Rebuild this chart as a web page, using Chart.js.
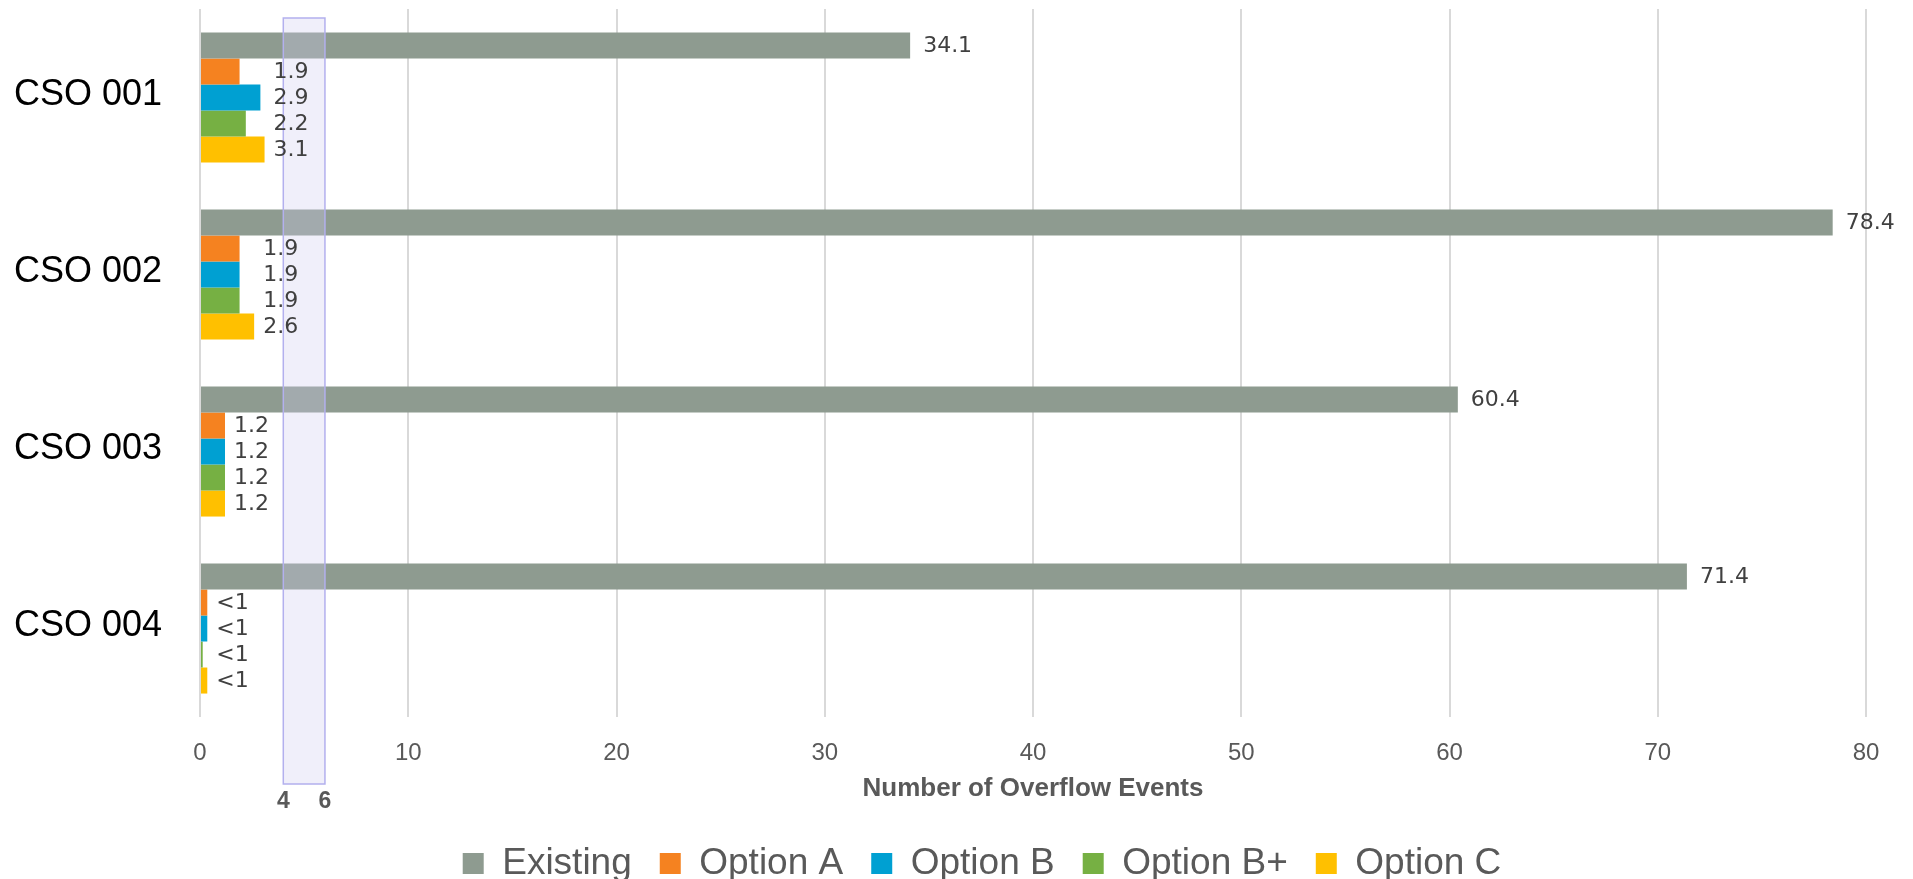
<!DOCTYPE html>
<html>
<head>
<meta charset="utf-8">
<script src="https://cdn.jsdelivr.net/npm/chart.js@4"></script>
<style>
  html, body { margin: 0; padding: 0; background: #fff; }
</style>
</head>
<body>
<canvas id="myChart" width="1913" height="879"></canvas>
<script>
var sites = ["CSO 001", "CSO 002", "CSO 003", "CSO 004"];
var series_names = ["Existing", "Option A", "Option B", "Option B+", "Option C"];

// overflow events per site, one array per scenario
var existing = [34.1, 78.4, 60.4, 71.4];
var option_a = [1.9, 1.9, 1.2, 0.35];
var option_b = [2.9, 1.9, 1.2, 0.35];
var option_bplus = [2.2, 1.9, 1.2, 0.13];
var option_c = [3.1, 2.6, 1.2, 0.35];

var x_min = 0, x_max = 80, x_step = 10;
// target range shaded across the chart
var band = [4, 6];

var colors = ["#8E9B90", "#F58220", "#00A0D2", "#76B043", "#FFC000"];
var series_values = [existing, option_a, option_b, option_bplus, option_c];

function label_text(v){
  if(v < 1) return "<1";
  return v.toFixed(1);
}

var band_plugin = {
  id: "band",
  afterDatasetsDraw: function(chart){
    var ctx = chart.ctx;
    var x = chart.scales.x;
    var area = chart.chartArea;
    var x0 = x.getPixelForValue(band[0]);
    var x1 = x.getPixelForValue(band[1]);
    var top = area.top + 9;
    var bottom = area.bottom + 67;
    ctx.save();
    ctx.fillStyle = "rgba(207,204,239,0.31)";
    ctx.fillRect(x0, top, x1 - x0, bottom - top);
    ctx.strokeStyle = "#B3B0EE";
    ctx.lineWidth = 1.5;
    ctx.strokeRect(x0, top, x1 - x0, bottom - top);
    // range end labels under the box
    ctx.fillStyle = "#595959";
    ctx.font = "bold 23px 'Liberation Sans'";
    ctx.textAlign = "center";
    ctx.textBaseline = "middle";
    ctx.fillText(String(band[0]), x0, bottom + 18);
    ctx.fillText(String(band[1]), x1, bottom + 18);
    ctx.restore();
  }
};

var value_labels = {
  id: "value_labels",
  afterDatasetsDraw: function(chart){
    var ctx = chart.ctx;
    ctx.save();
    ctx.font = "22px 'DejaVu Sans'";
    ctx.fillStyle = "#404040";
    ctx.textAlign = "left";
    ctx.textBaseline = "middle";
    var n = chart.data.datasets.length;
    for(var i = 0; i < sites.length; i++){
      // option labels line up just past the longest option bar
      var opt_end = 0;
      for(var d = 1; d < n; d++){
        opt_end = Math.max(opt_end, chart.getDatasetMeta(d).data[i].x);
      }
      for(var d = 0; d < n; d++){
        var bar = chart.getDatasetMeta(d).data[i];
        var lx = d === 0 ? bar.x + 13 : opt_end + 9;
        ctx.fillText(label_text(chart.data.datasets[d].data[i]), lx, bar.y + 1);
      }
    }
    ctx.restore();
  }
};

// legend row sits a little right of the canvas centre
var legend_nudge = {
  id: "legend_nudge",
  afterLayout: function(chart){
    chart.legend.left += 42;
    chart.legend.right += 42;
  }
};

var datasets = series_names.map(function(name, k){
  return {
    label: name,
    data: series_values[k],
    backgroundColor: colors[k],
    borderWidth: 0
  };
});

Chart.defaults.font.family = "'Liberation Sans', Arial, sans-serif";

var ctx = document.getElementById("myChart");
var chart = new Chart(ctx, {
  type: "bar",
  data: {
    labels: sites,
    datasets: datasets
  },
  options: {
    indexAxis: "y",
    responsive: false,
    animation: false,
    layout: { padding: { top: 9, right: 47, left: 14, bottom: -13 } },
    datasets: { bar: { categoryPercentage: 0.735, barPercentage: 1 } },
    scales: {
      x: {
        min: x_min,
        max: x_max,
        ticks: { stepSize: x_step, padding: 22, color: "#595959", font: { size: 24 } },
        grid: { color: "#D9D9D9", lineWidth: 2, drawTicks: false },
        border: { display: false },
        title: {
          display: true,
          text: "Number of Overflow Events",
          color: "#595959",
          font: { size: 26, weight: "bold" },
          padding: { top: 5, bottom: 13 }
        },
        afterFit: function(s){
          s.height = 100;
        }
      },
      y: {
        ticks: { padding: 38, color: "#000000", font: { size: 36 }, labelOffset: -2 },
        grid: { display: false, drawTicks: false },
        border: { display: false },
        afterFit: function(s){
          s.width = 186;
          s.paddingTop = 0;
          s.paddingBottom = 0;
        }
      }
    },
    plugins: {
      legend: {
        position: "bottom",
        labels: {
          boxWidth: 21,
          boxHeight: 21,
          padding: 28,
          color: "#595959",
          font: { size: 37 }
        }
      },
      tooltip: { enabled: false }
    }
  },
  plugins: [band_plugin, value_labels, legend_nudge]
});
</script>
</body>
</html>
